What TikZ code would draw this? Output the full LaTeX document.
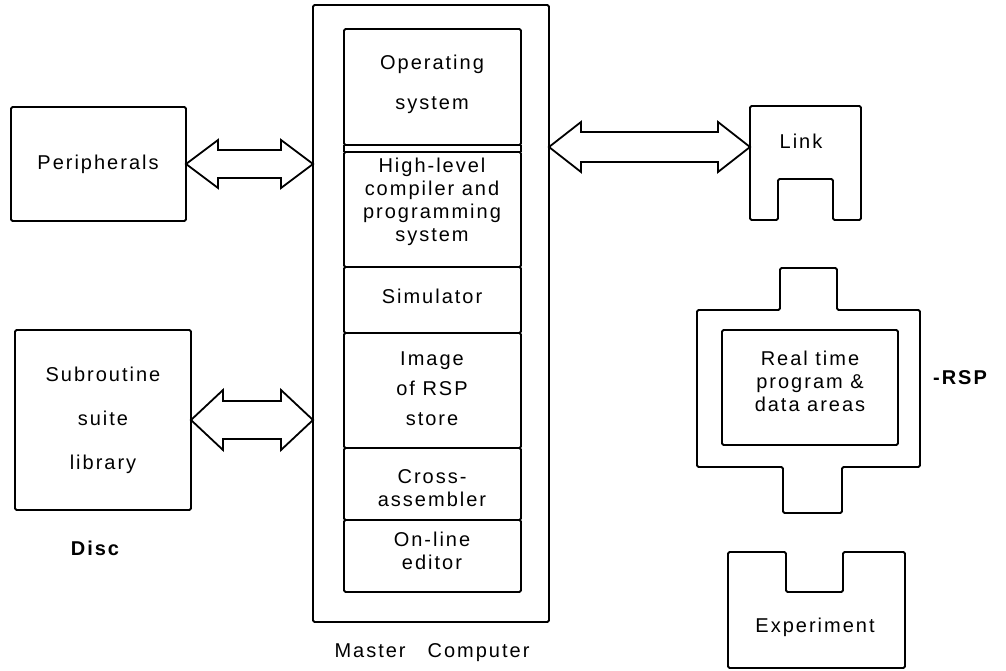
\documentclass[tikz,border=0pt]{standalone}
\usepackage{fontspec}
\setmainfont{Liberation Sans}[LetterSpace=10]
\usetikzlibrary{calc}
\newcommand\dblhollow[5]{%
  \draw[hollow] (#1) -- ($(#1)+(#3,-#4)$) -- ($(#1)+(#3,-#5)$) -- ($(#2)+(-#3,-#5)$) -- ($(#2)+(-#3,-#4)$) -- (#2)
     -- ($(#2)+(-#3,#4)$) -- ($(#2)+(-#3,#5)$) -- ($(#1)+(#3,#5)$) -- ($(#1)+(#3,#4)$) -- cycle;}
\begin{document}
\begin{tikzpicture}[x=1pt,y=-1pt,
  line width=1.8pt, line join=round,
  box/.style={draw, rounded corners=1.5pt, inner sep=0pt, outer sep=0pt, anchor=north west},
  txt/.style={font=\fontsize{20}{23}\selectfont, align=center, inner sep=0pt},
  hollow/.style={draw, line width=1.8pt, line join=miter},
  shapeline/.style={draw, rounded corners=1.5pt}]
\useasboundingbox (0,0) rectangle (1006,671);

% left boxes
\node[box, minimum width=175pt, minimum height=114pt] (per) at (11,107) {};
\node[txt] (per-t) at (98,164) {Peripherals};
\node[box, minimum width=176pt, minimum height=180pt] (sub) at (15,330) {};
\node[txt] (sub-t) at (103,420) {Subroutine\\[21pt]suite\\[21pt]library};
\node[txt, font=\fontsize{20}{23}\selectfont\bfseries] (disc) at (95,548) {Disc};

% master computer
\node[box, minimum width=236pt, minimum height=617pt] (master) at (313,5) {};
\node[box, minimum width=177pt, minimum height=116pt] (os) at (344,29) {};
\node[box, minimum width=177pt, minimum height=115pt] (hll) at (344,152) {};
\node[box, minimum width=177pt, minimum height=66pt] (sim) at (344,267) {};
\node[box, minimum width=177pt, minimum height=115pt] (img) at (344,333) {};
\node[box, minimum width=177pt, minimum height=72pt] (cross) at (344,448) {};
\node[box, minimum width=177pt, minimum height=72pt] (onl) at (344,520) {};
\draw (os.south west) -- (hll.north west);
\draw (os.south east) -- (hll.north east);
\node[txt] (os-t) at (432,84) {Operating\\[17pt]system};
\node[txt] (hll-t) at (432,202) {High-level\\compiler and\\programming\\system};
\node[txt] (sim-t) at (432,296) {Simulator};
\node[txt] (img-t) at (432,389) {Image\\[7pt]of RSP\\[7pt]store};
\node[txt] (cross-t) at (432,488) {Cross-\\assembler};
\node[txt] (onl-t) at (432,551) {On-line\\editor};
\node[txt] (mc) at (432,653) {Master\hspace{22pt}Computer};

% link
\draw[shapeline] (750,220) -- (750,106) -- (861,106) -- (861,220) -- (833,220) -- (833,179) -- (778,179) -- (778,220) -- cycle;
\node[txt] (link-t) at (801,141) {Link};
\coordinate (linkport) at (750,147);

% RSP
\draw[shapeline] (697,310) -- (780,310) -- (780,268) -- (837,268) -- (837,310) -- (920,310) -- (920,467)
   -- (842,467) -- (842,513) -- (783,513) -- (783,467) -- (697,467) -- cycle;
\node[box, minimum width=176pt, minimum height=115pt] (rtp) at (722,330) {};
\node[txt] (rtp-t) at (810,381) {Real time\\program \&\\data areas};
\node[txt, font=\fontsize{20}{23}\selectfont\bfseries] (rsp) at (960,378) {-RSP};

% experiment
\draw[shapeline] (728,552) -- (786,552) -- (786,592) -- (843,592) -- (843,552) -- (905,552) -- (905,668) -- (728,668) -- cycle;
\node[txt] (exp-t) at (815,627) {Experiment};

% arrows
\coordinate (a1r) at (master.west |- per.east);
\dblhollow{per.east}{a1r}{32}{24}{14}
\coordinate (a2r) at (master.west |- sub.east);
\dblhollow{sub.east}{a2r}{32}{30}{19}
\coordinate (a3l) at (master.east |- linkport);
\dblhollow{a3l}{linkport}{32}{25}{15}
\end{tikzpicture}
\end{document}
